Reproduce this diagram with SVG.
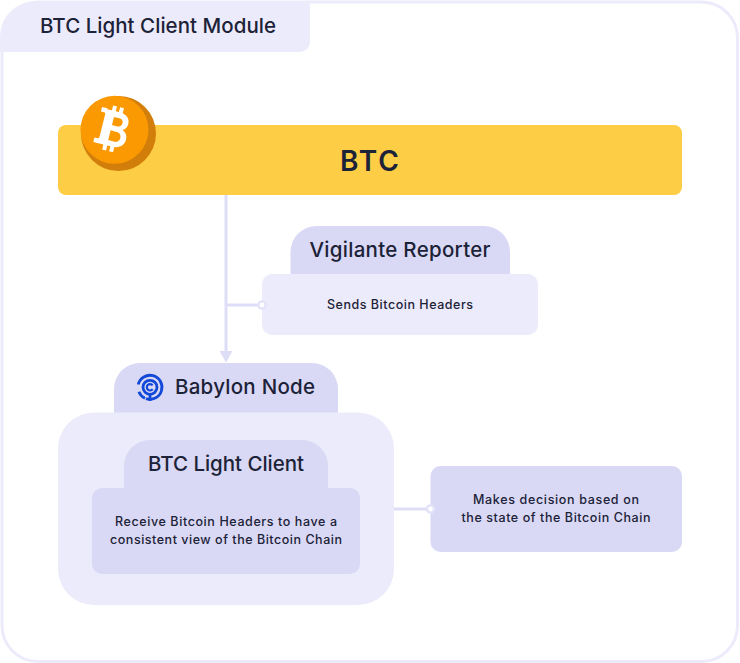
<svg xmlns="http://www.w3.org/2000/svg" width="740" height="663" viewBox="0 0 740 663">
<style>
text{font-family:Inter,"Open Sans","Liberation Sans",sans-serif;fill:#1C2237;text-anchor:middle}
.h{font-size:20.5px;font-weight:450}
.s{font-size:12.5px;font-weight:500}
.t{font-size:28px;font-weight:600}
.line{stroke:#DEDDF7;stroke-width:3;fill:none}
.dot{fill:#fff;stroke:#E3E2F9;stroke-width:2.400}
.l{fill:#ECEBFB}
.d{fill:#D9D8F5}
</style>
<rect width="740" height="663" fill="#fff"/>
<g id="module">
<rect x="2" y="2" width="735.500" height="659.500" rx="36" fill="#fff" stroke="#ECEBFB" stroke-width="3"/>
<path class="l" d="M0 52V36A34 34 0 0 1 34 2H310V42A10 10 0 0 1 300 52Z"/>
<text x="158" y="33" class="h" textLength="236" lengthAdjust="spacing">BTC Light Client Module</text>
</g>
<g id="connectors">
<path class="line" d="M226 195V352"/>
<path d="M219.500 351H232.500L226 362.500Z" fill="#DEDDF7"/>
<path class="line" d="M226 305H258"/>
<path class="line" d="M394 509H426"/>
</g>
<g id="btc">
<rect x="58" y="125" width="624" height="70" rx="8" fill="#FDCD45"/>
<text x="369.500" y="171" class="t" textLength="59" lengthAdjust="spacing">BTC</text>
<circle cx="118.500" cy="133.500" r="37.500" fill="#D27E0A"/>
<circle cx="114.500" cy="129.800" r="34" fill="#FB9903"/>
<path fill="#fff" fill-rule="evenodd" transform="translate(112.500 129.500) rotate(14) scale(.8 .84) translate(-116.500 -130)" d="M104 108h6v-6h5v6h4v-6h5v6.300c6 1.200 10 5 10 10.700 0 4.200-2 7-5.500 8.700 4.800 1.500 7.500 5 7.500 10 0 7-5 11.300-12 12v6.300h-5v-6h-4v6h-5v-6h-13v-5.500h4c1.200 0 2-.8 2-2v-28c0-1.200-.8-2-2-2h-4v-5.500h7zM114.500 115v10h7c3.200 0 5.300-2 5.300-5s-2.100-5-5.300-5zM114.500 131.500v12h8c3.600 0 6-2.400 6-6s-2.400-6-6-6z"/>
</g>
<g id="vigilante-reporter">
<path class="d" d="M290.500 275V252A26 26 0 0 1 316.500 226H484A26 26 0 0 1 510 252V275Z"/>
<rect class="l" x="262" y="274" width="276" height="61" rx="10"/>
<text x="400" y="257" class="h" textLength="181" lengthAdjust="spacing">Vigilante Reporter</text>
<text x="400" y="309" class="s" textLength="146" lengthAdjust="spacing">Sends Bitcoin Headers</text>
<circle class="dot" cx="262" cy="305" r="3.600"/>
</g>
<g id="babylon-node">
<path class="d" d="M114 414V389A26 26 0 0 1 140 363H312A26 26 0 0 1 338 389V414Z"/>
<rect class="l" x="58" y="412.500" width="336" height="192.500" rx="36"/>
<g fill="none" stroke="#1249D8" stroke-width="2.800">
<path d="M138.300 384.500A12 12 0 1 1 146 398.600"/>
<path d="M138.900 391.800A12 12 0 0 0 145 398.300"/>
<circle cx="150" cy="387.300" r="7"/>
<path d="M152.600 385.400A3.200 3.200 0 1 0 152.600 389.200" stroke-width="2.200"/>
<path d="M150 394.300V401"/>
</g>
<text x="245" y="394" class="h" textLength="140" lengthAdjust="spacing">Babylon Node</text>
</g>
<g id="btc-light-client">
<path class="d" d="M124 489V466A26 26 0 0 1 150 440H302A26 26 0 0 1 328 466V489Z"/>
<rect class="d" x="92" y="488" width="268" height="86" rx="10"/>
<text x="226" y="471" class="h" textLength="156" lengthAdjust="spacing">BTC Light Client</text>
<text x="226" y="526" class="s" textLength="222" lengthAdjust="spacing">Receive Bitcoin Headers to have a</text>
<text x="226" y="544" class="s" textLength="232" lengthAdjust="spacing">consistent view of the Bitcoin Chain</text>
</g>
<g id="decision">
<rect class="d" x="430.500" y="466" width="251.500" height="86" rx="10"/>
<text x="556" y="504" class="s" textLength="166" lengthAdjust="spacing">Makes decision based on</text>
<text x="556" y="522" class="s" textLength="189" lengthAdjust="spacing">the state of the Bitcoin Chain</text>
<circle class="dot" cx="430.500" cy="509" r="3.600"/>
</g>
</svg>
